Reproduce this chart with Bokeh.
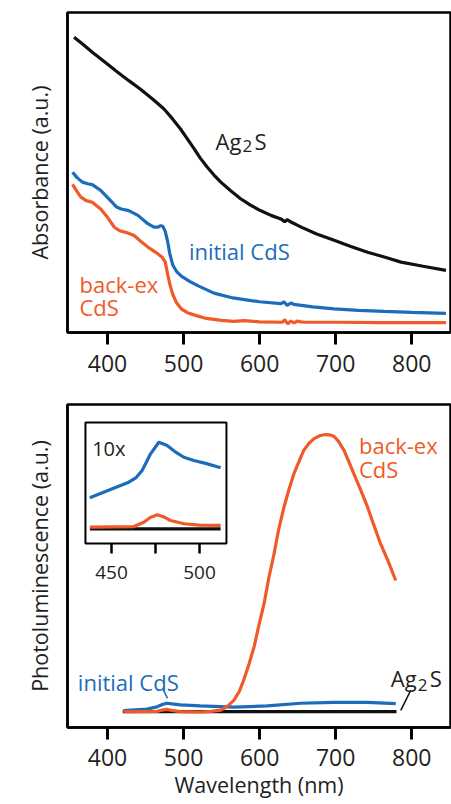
from bokeh.plotting import figure
from bokeh.layouts import column
from bokeh.models import Range1d, FixedTicker, Label
from bokeh.embed import file_html
from bokeh.resources import INLINE

FONT = "Open Sans"
TXT = "#231f20"
BLACK = "#111111"
BLUE = "#1c6cbc"
ORANGE = "#f05a28"

x_ticks = [400, 500, 600, 700, 800]
inset_ticks = [450, 475, 500]
inset_tick_labels = [450, 500]

# ---------- Panel A: absorbance (normalized, a.u.) ----------
abs_ag2s_nm = [356, 368, 380, 383, 396, 413, 428, 443, 460, 474, 485, 496, 505, 514, 522, 531, 540, 549,
               562, 575, 588, 601, 615, 628, 633, 636, 640, 654, 675, 698, 720, 742, 765, 786, 815, 845]
abs_ag2s = [0.923, 0.900, 0.876, 0.870, 0.846, 0.814, 0.787, 0.761, 0.728, 0.699, 0.669, 0.636, 0.605,
            0.574, 0.545, 0.517, 0.492, 0.470, 0.443, 0.418, 0.398, 0.381, 0.366, 0.355, 0.346, 0.353,
            0.347, 0.330, 0.308, 0.288, 0.269, 0.251, 0.235, 0.220, 0.207, 0.194]

abs_init_nm = [354, 360, 367, 374, 380, 391, 404, 412, 418, 428, 440, 453, 461, 466, 470, 473, 476, 479,
               482, 486, 491, 497, 508, 520, 540, 565, 600, 628, 632, 636, 641, 645, 670, 698, 730, 764,
               800, 845]
abs_init = [0.501, 0.484, 0.470, 0.465, 0.462, 0.444, 0.412, 0.392, 0.386, 0.381, 0.366, 0.340, 0.329,
            0.329, 0.334, 0.331, 0.315, 0.285, 0.245, 0.210, 0.190, 0.176, 0.160, 0.145, 0.123, 0.108,
            0.096, 0.090, 0.096, 0.085, 0.092, 0.088, 0.080, 0.074, 0.069, 0.066, 0.063, 0.060]

abs_back_nm = [354, 360, 365, 372, 380, 391, 400, 409, 416, 424, 435, 444, 453, 460, 466, 472, 476, 479,
               482, 486, 491, 497, 505, 518, 530, 550, 566, 580, 600, 630, 633, 637, 641, 645, 650, 654,
               660, 700, 760, 845]
abs_back = [0.463, 0.440, 0.423, 0.412, 0.407, 0.386, 0.360, 0.329, 0.318, 0.313, 0.303, 0.284, 0.267,
            0.256, 0.246, 0.235, 0.220, 0.183, 0.150, 0.118, 0.092, 0.074, 0.062, 0.052, 0.044, 0.038,
            0.035, 0.037, 0.033, 0.032, 0.040, 0.027, 0.036, 0.030, 0.036, 0.033, 0.032, 0.032, 0.031,
            0.031]

# ---------- Panel B: photoluminescence (normalized, a.u.) ----------
pl_ag2s_nm = [420, 500, 600, 700, 780]
pl_ag2s = [0.049, 0.049, 0.049, 0.049, 0.049]

pl_init_nm = [421, 452, 465, 473, 478, 485, 496, 522, 566, 610, 654, 698, 742, 779]
pl_init = [0.052, 0.057, 0.064, 0.072, 0.075, 0.073, 0.070, 0.067, 0.063, 0.067, 0.075, 0.078, 0.078, 0.074]

pl_back_nm = [421, 465, 472, 478, 486, 496, 522, 536, 549, 558, 566, 573, 579, 586, 593, 599, 606, 612,
              619, 625, 632, 639, 645, 652, 658, 665, 672, 680, 687, 694, 698, 704, 711, 717, 724, 733,
              742, 750, 759, 769, 779]
pl_back = [0.049, 0.050, 0.054, 0.056, 0.052, 0.049, 0.048, 0.050, 0.054, 0.066, 0.084, 0.110, 0.146,
           0.196, 0.252, 0.316, 0.385, 0.462, 0.538, 0.612, 0.682, 0.740, 0.785, 0.825, 0.858, 0.880,
           0.895, 0.904, 0.907, 0.905, 0.901, 0.885, 0.858, 0.825, 0.785, 0.735, 0.682, 0.628, 0.569,
           0.515, 0.455]

# inset (10x)
ins_init_nm = [437.7, 449.4, 459.8, 464.0, 467.4, 472.2, 476.9, 481.6, 486.0, 491.1, 496.8, 504.0, 512.0]
ins_init = [0.378, 0.446, 0.507, 0.545, 0.603, 0.741, 0.837, 0.810, 0.760, 0.713, 0.686, 0.660, 0.626]
ins_back_nm = [437.7, 462.7, 468.4, 472.0, 476.0, 480.0, 483.5, 491.1, 500.0, 512.0]
ins_back = [0.135, 0.140, 0.176, 0.215, 0.237, 0.218, 0.190, 0.163, 0.152, 0.149]
ins_ag2s_nm = [437.7, 475.0, 512.0]
ins_ag2s = [0.121, 0.121, 0.121]

INSET_X = (435.2, 515.3)


def style(p, label_standoff, title_standoff):
    p.xgrid.visible = False
    p.ygrid.visible = False
    p.outline_line_color = "black"
    p.outline_line_width = 2.5
    p.outline_line_alpha = 1
    p.background_fill_color = "white"
    p.border_fill_color = "white"
    ax = p.xaxis[0]
    ax.ticker = FixedTicker(ticks=x_ticks)
    ax.minor_tick_line_color = None
    ax.major_tick_in = 0
    ax.major_tick_out = 12
    ax.major_tick_line_width = 3
    ax.major_tick_line_color = "black"
    ax.axis_line_width = 2.5
    ax.axis_line_color = "black"
    ax.major_label_text_font = FONT
    ax.major_label_text_font_size = "23px"
    ax.major_label_text_color = TXT
    ax.major_label_standoff = label_standoff
    ax.axis_label_standoff = title_standoff
    ax.axis_label_text_font = FONT
    ax.axis_label_text_font_size = "21.5px"
    ax.axis_label_text_font_style = "normal"
    ax.axis_label_text_color = TXT
    ay = p.yaxis[0]
    ay.ticker = FixedTicker(ticks=[])
    ay.minor_tick_line_color = None
    ay.major_tick_out = 0
    ay.major_tick_in = 0
    ay.major_label_standoff = 0
    ay.axis_line_width = 2.5
    ay.axis_line_color = "black"
    ay.axis_label_text_font = FONT
    ay.axis_label_text_font_size = "21.5px"
    ay.axis_label_text_font_style = "normal"
    ay.axis_label_text_color = TXT
    ay.axis_label_standoff = 14


def lab(p, x, y, text, color=TXT, size="22px", align="left", dx=0):
    p.add_layout(Label(x=x, y=y, text=text, text_color=color, text_font=FONT, text_font_size=size,
                       text_align=align, text_baseline="alphabetic", x_offset=dx))


H_A = 387

# ---------------- Panel A ----------------
pA = figure(width=451, height=H_A, x_range=Range1d(347.4, 851), y_range=Range1d(0, 1),
            output_backend="svg", toolbar_location=None,
            min_border_left=67, min_border_right=1, min_border_top=12, min_border_bottom=H_A - 332)
style(pA, 10, 0)
pA.yaxis[0].axis_label = "Absorbance (a.u.)"

pA.line(abs_ag2s_nm, abs_ag2s, line_color=BLACK, line_width=3.2)
pA.line(abs_init_nm, abs_init, line_color=BLUE, line_width=3.2)
pA.line(abs_back_nm, abs_back, line_color=ORANGE, line_width=3.2)

lab(pA, 272.4, 0.9125, "(A)", size="23px")
lab(pA, 542.1, 0.600, "Ag")
lab(pA, 542.1, 0.582, "2", size="17px", dx=27)
lab(pA, 542.1, 0.600, "S", dx=39)
lab(pA, 507.0, 0.256, "initial CdS", color=BLUE)
lab(pA, 363.2, 0.152, "back-ex", color=ORANGE)
lab(pA, 363.2, 0.079, "CdS", color=ORANGE)

# ---------------- Panel B ----------------
pB = figure(width=451, height=804 - H_A, x_range=Range1d(347.4, 851), y_range=Range1d(0, 1),
            output_backend="svg", toolbar_location=None,
            min_border_left=67, min_border_right=1, min_border_top=404 - H_A, min_border_bottom=77)
style(pB, 9, 1)
pB.yaxis[0].axis_label = "Photoluminescence (a.u.)"
pB.xaxis[0].axis_label = "Wavelength (nm)"

pB.line(pl_ag2s_nm, pl_ag2s, line_color=BLACK, line_width=3.2)
pB.line(pl_init_nm, pl_init, line_color=BLUE, line_width=3.2)
pB.line(pl_back_nm, pl_back, line_color=ORANGE, line_width=3.2)

# leader lines
pB.segment(x0=[472.4], y0=[0.121], x1=[479.0], y1=[0.090], line_color=BLUE, line_width=1.5)
pB.segment(x0=[785.6], y0=[0.053], x1=[798.7], y1=[0.115], line_color=BLACK, line_width=1.5)

lab(pB, 272.4, 0.945, "(B)", size="23px")
lab(pB, 730.7, 0.876, "back-ex", color=ORANGE)
lab(pB, 730.7, 0.801, "CdS", color=ORANGE)
lab(pB, 361.0, 0.142, "initial CdS", color=BLUE)
lab(pB, 772.4, 0.152, "Ag")
lab(pB, 772.4, 0.132, "2", size="17px", dx=27)
lab(pB, 772.4, 0.152, "S", dx=39)

# inset using extra ranges mapped onto a sub-region of the frame
pB.extra_x_ranges = {"ix": Range1d(425.0, 642.6)}
pB.extra_y_ranges = {"iy": Range1d(-1.5207, 1.1488)}
pB.quad(left=[INSET_X[0]], right=[INSET_X[1]], bottom=[0], top=[1], fill_color="white",
        line_color="black", line_width=2, x_range_name="ix", y_range_name="iy")
pB.line(ins_ag2s_nm, ins_ag2s, line_color=BLACK, line_width=3.2, x_range_name="ix", y_range_name="iy")
pB.line(ins_back_nm, ins_back, line_color=ORANGE, line_width=3.2, x_range_name="ix", y_range_name="iy")
pB.line(ins_init_nm, ins_init, line_color=BLUE, line_width=3.2, x_range_name="ix", y_range_name="iy")
pB.segment(x0=inset_ticks, y0=[0] * len(inset_ticks), x1=inset_ticks, y1=[-0.083] * len(inset_ticks),
           line_color="black", line_width=2.5, x_range_name="ix", y_range_name="iy")
for t in inset_tick_labels:
    pB.add_layout(Label(x=t, y=-0.237, text=str(t), text_color=TXT, text_font=FONT, text_font_size="19px",
                        text_align="center", text_baseline="alphabetic", x_range_name="ix", y_range_name="iy"))
pB.add_layout(Label(x=439.0, y=0.783, text="10x", text_color=TXT, text_font=FONT, text_font_size="20px",
                    text_align="left", text_baseline="alphabetic", x_range_name="ix", y_range_name="iy"))

layout = column(pA, pB, spacing=0)
open("out.html", "w").write(file_html(layout, INLINE))
